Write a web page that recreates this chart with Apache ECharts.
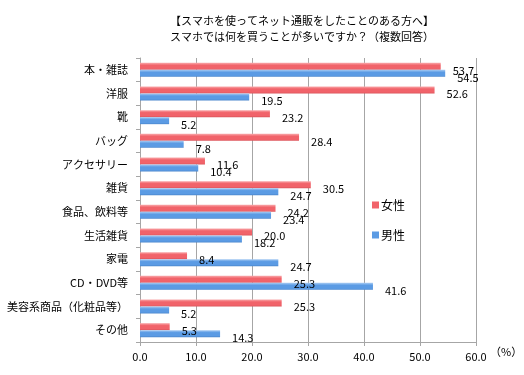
<!DOCTYPE html>
<html>
<head>
<meta charset="utf-8">
<script src="https://cdn.jsdelivr.net/npm/echarts@6/dist/echarts.min.js"></script>
<style>
  html, body { margin: 0; padding: 0; background: #fff; }
  #main { width: 524px; height: 375px; }
</style>
</head>
<body>
<div id="main"></div>
<script>
// カテゴリ（上から順）
var categories = ["本・雑誌", "洋服", "靴", "バッグ", "アクセサリー", "雑貨", "食品、飲料等", "生活雑貨", "家電", "CD・DVD等", "美容系商品（化粧品等）", "その他"];
var female = [53.7, 52.6, 23.2, 28.4, 11.6, 30.5, 24.2, 20.0, 8.4, 25.3, 25.3, 5.3];
var male = [54.5, 19.5, 5.2, 7.8, 10.4, 24.7, 23.4, 18.2, 24.7, 41.6, 5.2, 14.3];

var font = "'Noto Sans CJK JP', sans-serif";

function grad(light, mid, dark) {
    return new echarts.graphic.LinearGradient(0, 0, 0, 1, [
        {offset: 0, color: light},
        {offset: 0.35, color: mid},
        {offset: 0.8, color: mid},
        {offset: 1, color: dark}
    ]);
}

var valueLabel = {
    show: true, position: "right", distance: 12, offset: [0, 4],
    color: "#000", fontSize: 11, fontFamily: font,
    formatter: function (p) { return p.value.toFixed(1); }
};

var chart = echarts.init(document.getElementById("main"));
chart.setOption({
    animation: false,
    backgroundColor: "#fff",
    textStyle: {fontFamily: font},
    title: {
        text: "【スマホを使ってネット通販をしたことのある方へ】\nスマホでは何を買うことが多いですか？（複数回答）",
        left: 297,
        textAlign: "center",
        top: 8,
        textStyle: {fontSize: 11, fontWeight: "normal", color: "#000", lineHeight: 16, fontFamily: font}
    },
    legend: {
        orient: "vertical",
        left: 367,
        top: 194,
        itemWidth: 7,
        itemHeight: 7,
        itemGap: 18,
        icon: "rect",
        textStyle: {fontSize: 12, color: "#000", fontFamily: font, padding: [0, 0, 0, -3]},
        data: [
            {name: "女性", itemStyle: {color: "#f1636a"}},
            {name: "男性", itemStyle: {color: "#5b9be4"}}
        ]
    },
    grid: {left: 140, right: 48, top: 58, bottom: 33, outerBoundsMode: "none"},
    xAxis: {
        type: "value",
        min: 0,
        max: 60,
        interval: 10,
        axisLine: {show: true, lineStyle: {color: "#a6a6a6"}},
        axisTick: {show: true, length: 4, lineStyle: {color: "#a6a6a6"}},
        axisLabel: {
            color: "#000", fontSize: 11, margin: 9, fontFamily: font,
            formatter: function (v) { return v.toFixed(1); }
        },
        splitLine: {show: true, lineStyle: {color: "#a6a6a6"}}
    },
    yAxis: {
        type: "category",
        inverse: true,
        data: categories,
        axisLine: {show: true, lineStyle: {color: "#a6a6a6"}},
        axisTick: {show: true, length: 4, lineStyle: {color: "#a6a6a6"}},
        axisLabel: {color: "#000", fontSize: 11, margin: 12, fontFamily: font}
    },
    graphic: [{
        type: "text",
        left: 490,
        top: 346,
        style: {text: "（%）", fontSize: 11, fill: "#000", fontFamily: font}
    }],
    series: [
        {
            name: "女性",
            type: "bar",
            data: female,
            barWidth: 7,
            barGap: "0%",
            itemStyle: {color: grad("#f9a9ab", "#f1636a", "#d9545a")},
            label: valueLabel
        },
        {
            name: "男性",
            type: "bar",
            data: male,
            barWidth: 7,
            itemStyle: {color: grad("#a9ccf3", "#5b9be4", "#4a86cc")},
            label: valueLabel
        }
    ]
});
</script>
</body>
</html>
